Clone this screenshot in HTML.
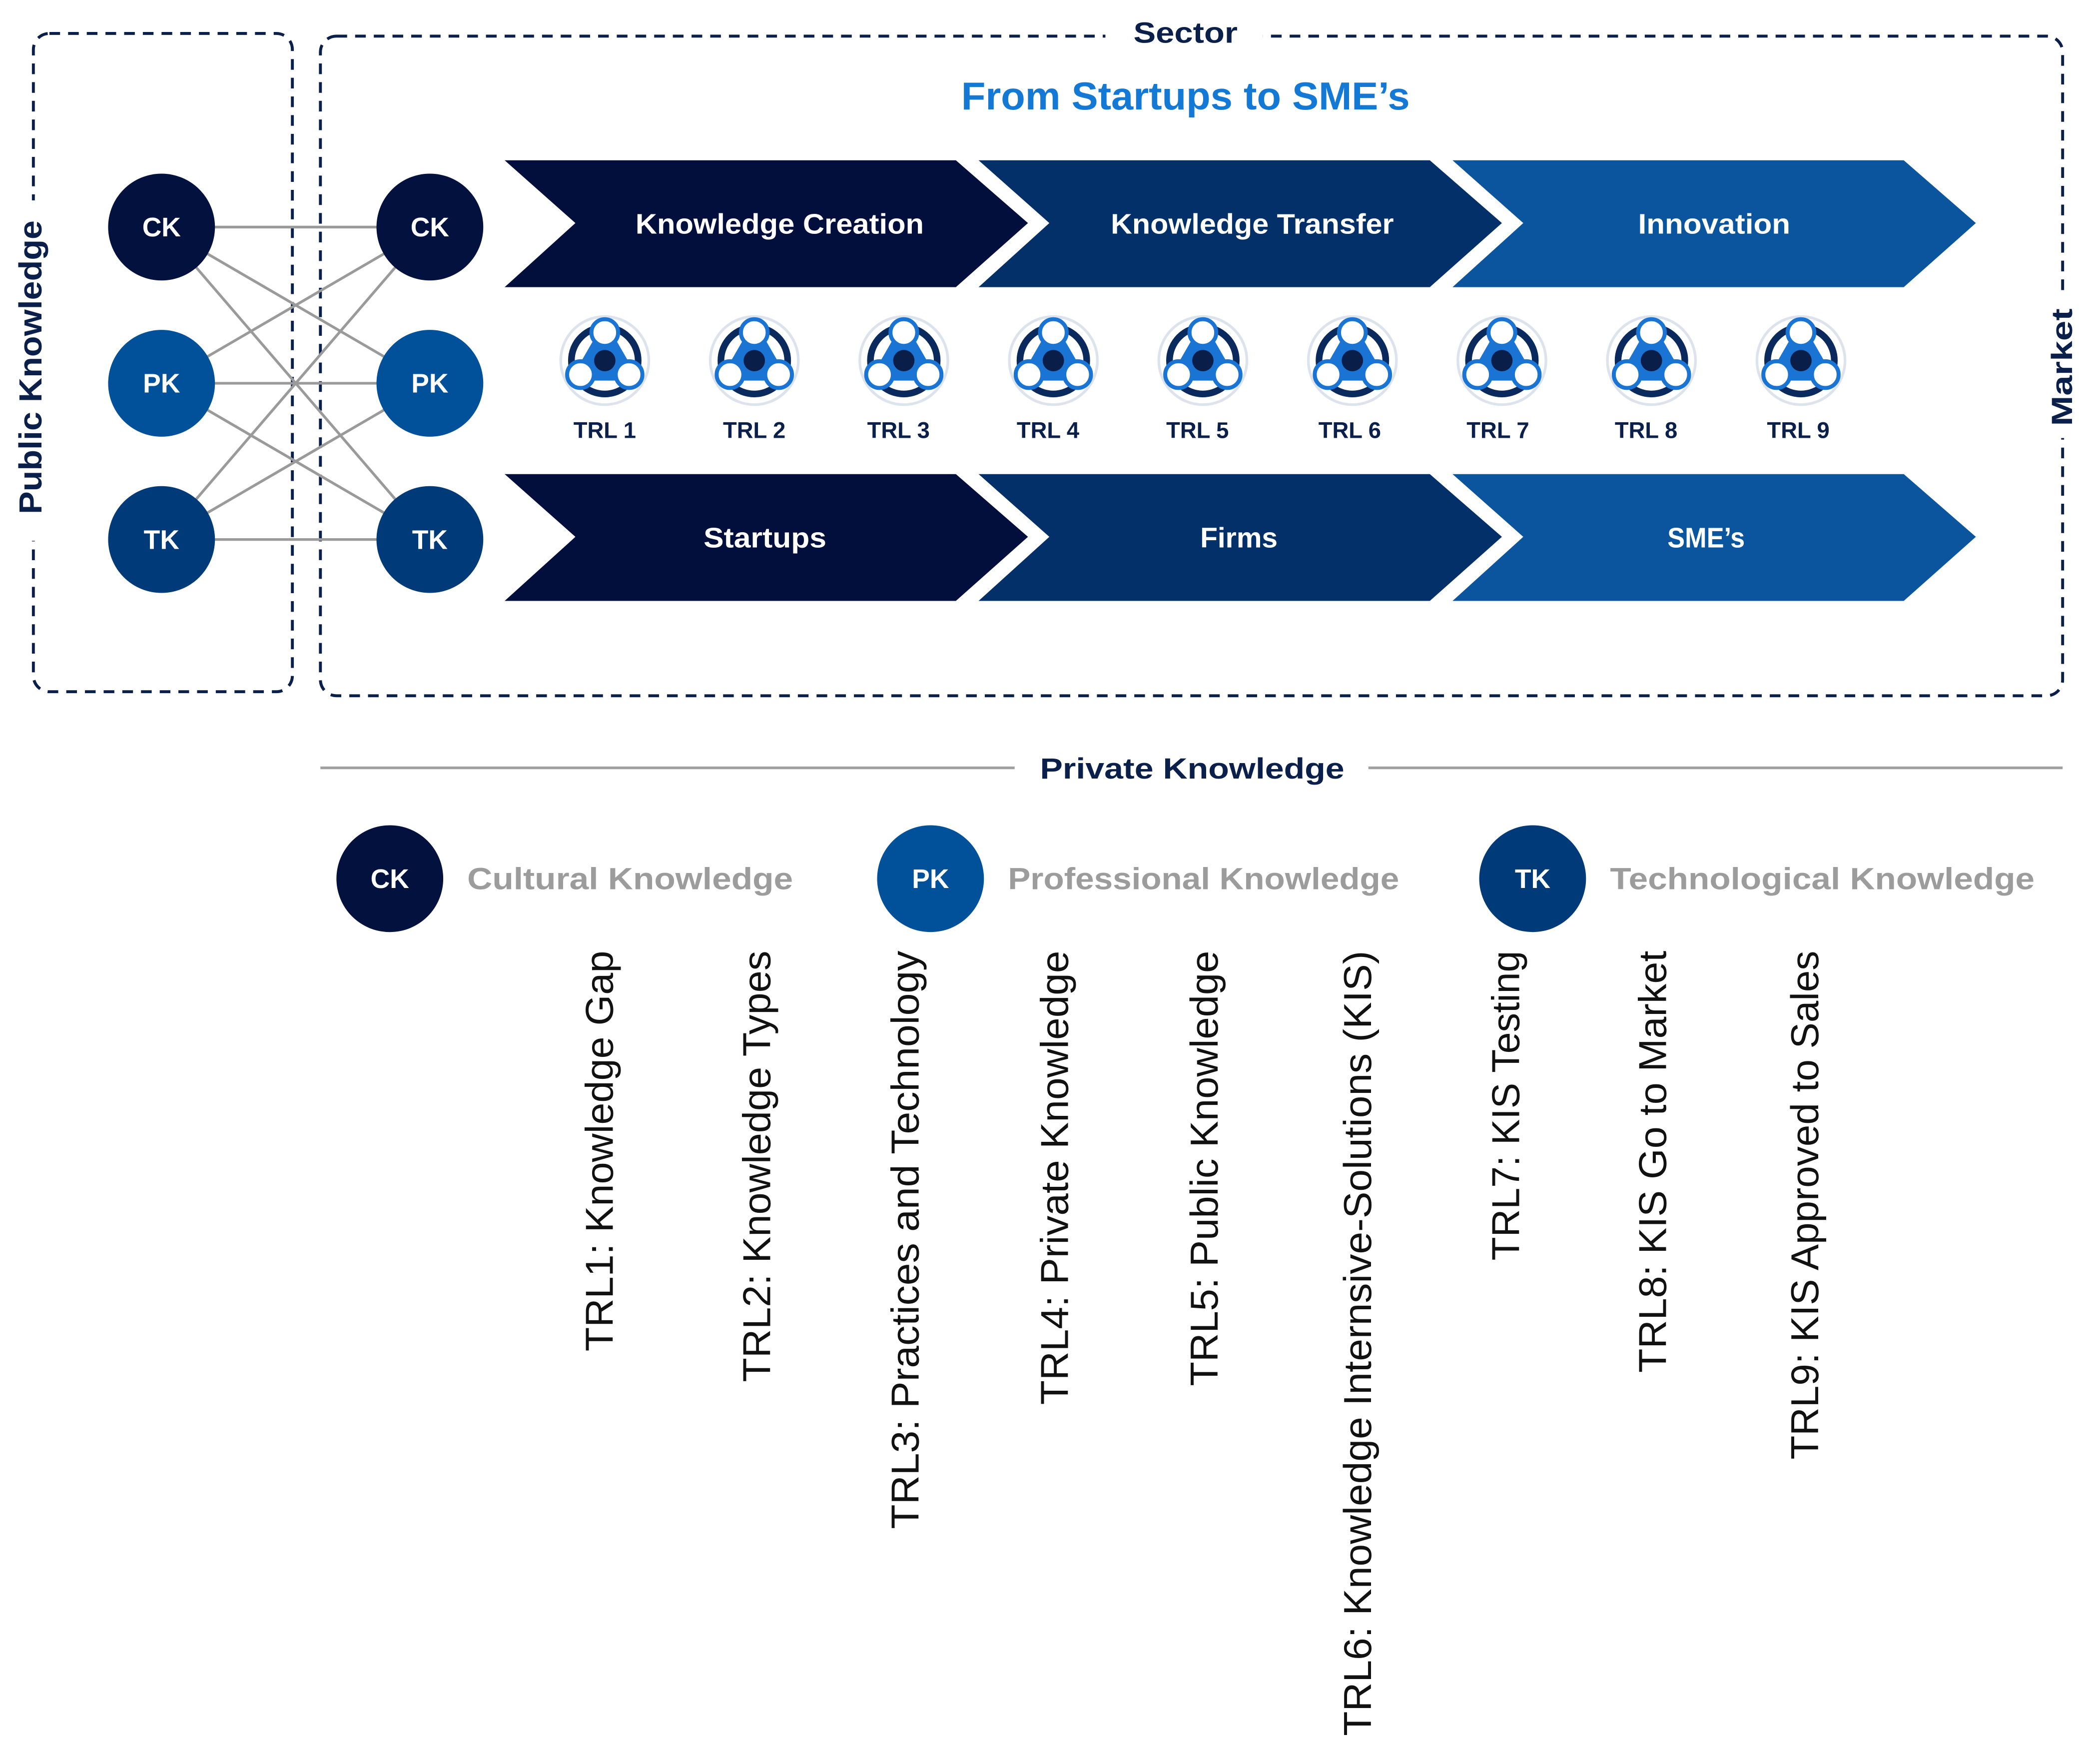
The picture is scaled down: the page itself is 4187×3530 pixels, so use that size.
<!DOCTYPE html>
<html><head><meta charset="utf-8"><style>
html,body{margin:0;padding:0;background:#fff;}
svg{display:block;}
text{font-family:"Liberation Sans",sans-serif;}
</style></head><body>
<svg width="4187" height="3530" viewBox="0 0 1567 1321" xmlns="http://www.w3.org/2000/svg">
<defs>
<g id="ic">
  <circle r="33" fill="none" stroke="#dde3ec" stroke-width="2"/>
  <circle r="25" fill="#fff" stroke="#0a2a5e" stroke-width="5"/>
  <path d="M0,-20 L17.3,10 L-17.3,10 Z" fill="#1a74d4" stroke="#1a74d4" stroke-width="10" stroke-linejoin="round"/>
  <circle cx="0" cy="-21" r="10" fill="#fff" stroke="#1a74d4" stroke-width="3"/>
  <circle cx="18.2" cy="10.5" r="10" fill="#fff" stroke="#1a74d4" stroke-width="3"/>
  <circle cx="-18.2" cy="10.5" r="10" fill="#fff" stroke="#1a74d4" stroke-width="3"/>
  <circle r="8" fill="#0a1e4a"/>
</g>
</defs>
<rect x="25" y="25" width="194" height="493" rx="12" fill="none" stroke="#0a1f4a" stroke-width="2.2" stroke-dasharray="8,6"/>
<rect x="240" y="27" width="1305" height="494" rx="12" fill="none" stroke="#0a1f4a" stroke-width="2.2" stroke-dasharray="8,6"/>
<rect x="8" y="150" width="32" height="255" fill="#fff"/>
<text transform="translate(31,275) rotate(-90)" text-anchor="middle" font-size="24" font-weight="bold" fill="#0a1f4a" textLength="220" lengthAdjust="spacingAndGlyphs">Public Knowledge</text>
<rect x="1530" y="222" width="28" height="106" fill="#fff"/>
<text transform="translate(1552,275) rotate(-90)" text-anchor="middle" font-size="22" font-weight="bold" fill="#0a1f4a" textLength="88" lengthAdjust="spacingAndGlyphs">Market</text>
<rect x="828" y="10" width="118" height="30" fill="#fff"/>
<text x="888" y="32" text-anchor="middle" font-size="22" font-weight="bold" fill="#0a1f4a" textLength="78" lengthAdjust="spacingAndGlyphs">Sector</text>
<text x="888" y="82" text-anchor="middle" font-size="29" font-weight="bold" fill="#1479d4" textLength="336" lengthAdjust="spacingAndGlyphs">From Startups to SME’s</text>
<g stroke="#9a9a9a" stroke-width="2">
<line x1="121" y1="170" x2="322" y2="170"/><line x1="121" y1="170" x2="322" y2="287"/><line x1="121" y1="170" x2="322" y2="404"/>
<line x1="121" y1="287" x2="322" y2="170"/><line x1="121" y1="287" x2="322" y2="287"/><line x1="121" y1="287" x2="322" y2="404"/>
<line x1="121" y1="404" x2="322" y2="170"/><line x1="121" y1="404" x2="322" y2="287"/><line x1="121" y1="404" x2="322" y2="404"/>
</g>
<g font-size="20" font-weight="bold" fill="#fff" text-anchor="middle">
<circle cx="121" cy="170" r="40" fill="#02113e"/><text x="121" y="177">CK</text>
<circle cx="121" cy="287" r="40" fill="#00509a"/><text x="121" y="294">PK</text>
<circle cx="121" cy="404" r="40" fill="#003a78"/><text x="121" y="411">TK</text>
<circle cx="322" cy="170" r="40" fill="#02113e"/><text x="322" y="177">CK</text>
<circle cx="322" cy="287" r="40" fill="#00509a"/><text x="322" y="294">PK</text>
<circle cx="322" cy="404" r="40" fill="#003a78"/><text x="322" y="411">TK</text>
</g>
<g>
<polygon points="378,120 716,120 770,167 716,215 378,215 431,167" fill="#020f3c"/>
<polygon points="733,120 1071,120 1125,167 1071,215 733,215 786,167" fill="#04306a"/>
<polygon points="1088,120 1426,120 1480,167 1426,215 1088,215 1141,167" fill="#0a559e"/>
<polygon points="378,355 716,355 770,402 716,450 378,450 431,402" fill="#020f3c"/>
<polygon points="733,355 1071,355 1125,402 1071,450 733,450 786,402" fill="#04306a"/>
<polygon points="1088,355 1426,355 1480,402 1426,450 1088,450 1141,402" fill="#0a559e"/>
</g>
<g font-size="21" font-weight="bold" fill="#fff" text-anchor="middle">
<text x="584" y="175" textLength="216" lengthAdjust="spacingAndGlyphs">Knowledge Creation</text>
<text x="938" y="175" textLength="212" lengthAdjust="spacingAndGlyphs">Knowledge Transfer</text>
<text x="1284" y="175" textLength="114" lengthAdjust="spacingAndGlyphs">Innovation</text>
<text x="573" y="410" textLength="92" lengthAdjust="spacingAndGlyphs">Startups</text>
<text x="928" y="410" textLength="58" lengthAdjust="spacingAndGlyphs">Firms</text>
<text x="1278" y="410" textLength="58" lengthAdjust="spacingAndGlyphs">SME’s</text>
</g>
<use href="#ic" x="453" y="270"/><use href="#ic" x="565" y="270"/><use href="#ic" x="677" y="270"/>
<use href="#ic" x="789" y="270"/><use href="#ic" x="901" y="270"/><use href="#ic" x="1013" y="270"/>
<use href="#ic" x="1125" y="270"/><use href="#ic" x="1237" y="270"/><use href="#ic" x="1349" y="270"/>
<g font-size="17" font-weight="bold" fill="#0a1f4a" text-anchor="middle">
<text x="453" y="328">TRL 1</text><text x="565" y="328">TRL 2</text><text x="673" y="328">TRL 3</text>
<text x="785" y="328">TRL 4</text><text x="897" y="328">TRL 5</text><text x="1011" y="328">TRL 6</text>
<text x="1122" y="328">TRL 7</text><text x="1233" y="328">TRL 8</text><text x="1347" y="328">TRL 9</text>
</g>
<line x1="240" y1="575" x2="760" y2="575" stroke="#a0a0a0" stroke-width="2"/>
<line x1="1025" y1="575" x2="1545" y2="575" stroke="#a0a0a0" stroke-width="2"/>
<text x="893" y="583" text-anchor="middle" font-size="22" font-weight="bold" fill="#0a1f4a" textLength="228" lengthAdjust="spacingAndGlyphs">Private Knowledge</text>
<g font-size="20" font-weight="bold" fill="#fff" text-anchor="middle">
<circle cx="292" cy="658" r="40" fill="#02113e"/><text x="292" y="665">CK</text>
<circle cx="697" cy="658" r="40" fill="#00509a"/><text x="697" y="665">PK</text>
<circle cx="1148" cy="658" r="40" fill="#003a78"/><text x="1148" y="665">TK</text>
</g>
<g font-size="23" font-weight="bold" fill="#9c9c9c">
<text x="350" y="666" textLength="244" lengthAdjust="spacingAndGlyphs">Cultural Knowledge</text>
<text x="755" y="666" textLength="293" lengthAdjust="spacingAndGlyphs">Professional Knowledge</text>
<text x="1206" y="666" textLength="318" lengthAdjust="spacingAndGlyphs">Technological Knowledge</text>
</g>
<g font-size="29" fill="#111" text-anchor="end">
<text transform="translate(459,712) rotate(-90)" textLength="300" lengthAdjust="spacingAndGlyphs">TRL1: Knowledge Gap</text>
<text transform="translate(577,712) rotate(-90)" textLength="323" lengthAdjust="spacingAndGlyphs">TRL2: Knowledge Types</text>
<text transform="translate(688,712) rotate(-90)" textLength="433" lengthAdjust="spacingAndGlyphs">TRL3: Practices and Technology</text>
<text transform="translate(800,712) rotate(-90)" textLength="340" lengthAdjust="spacingAndGlyphs">TRL4: Private Knowledge</text>
<text transform="translate(912,712) rotate(-90)" textLength="326" lengthAdjust="spacingAndGlyphs">TRL5: Public Knowledge</text>
<text transform="translate(1027,712) rotate(-90)" textLength="588" lengthAdjust="spacingAndGlyphs">TRL6: Knowledge Internsive-Solutions (KIS)</text>
<text transform="translate(1138,712) rotate(-90)" textLength="232" lengthAdjust="spacingAndGlyphs">TRL7: KIS Testing</text>
<text transform="translate(1248,712) rotate(-90)" textLength="316" lengthAdjust="spacingAndGlyphs">TRL8: KIS Go to Market</text>
<text transform="translate(1362,712) rotate(-90)" textLength="381" lengthAdjust="spacingAndGlyphs">TRL9: KIS Approved to Sales</text>
</g>
</svg>
</body></html>
